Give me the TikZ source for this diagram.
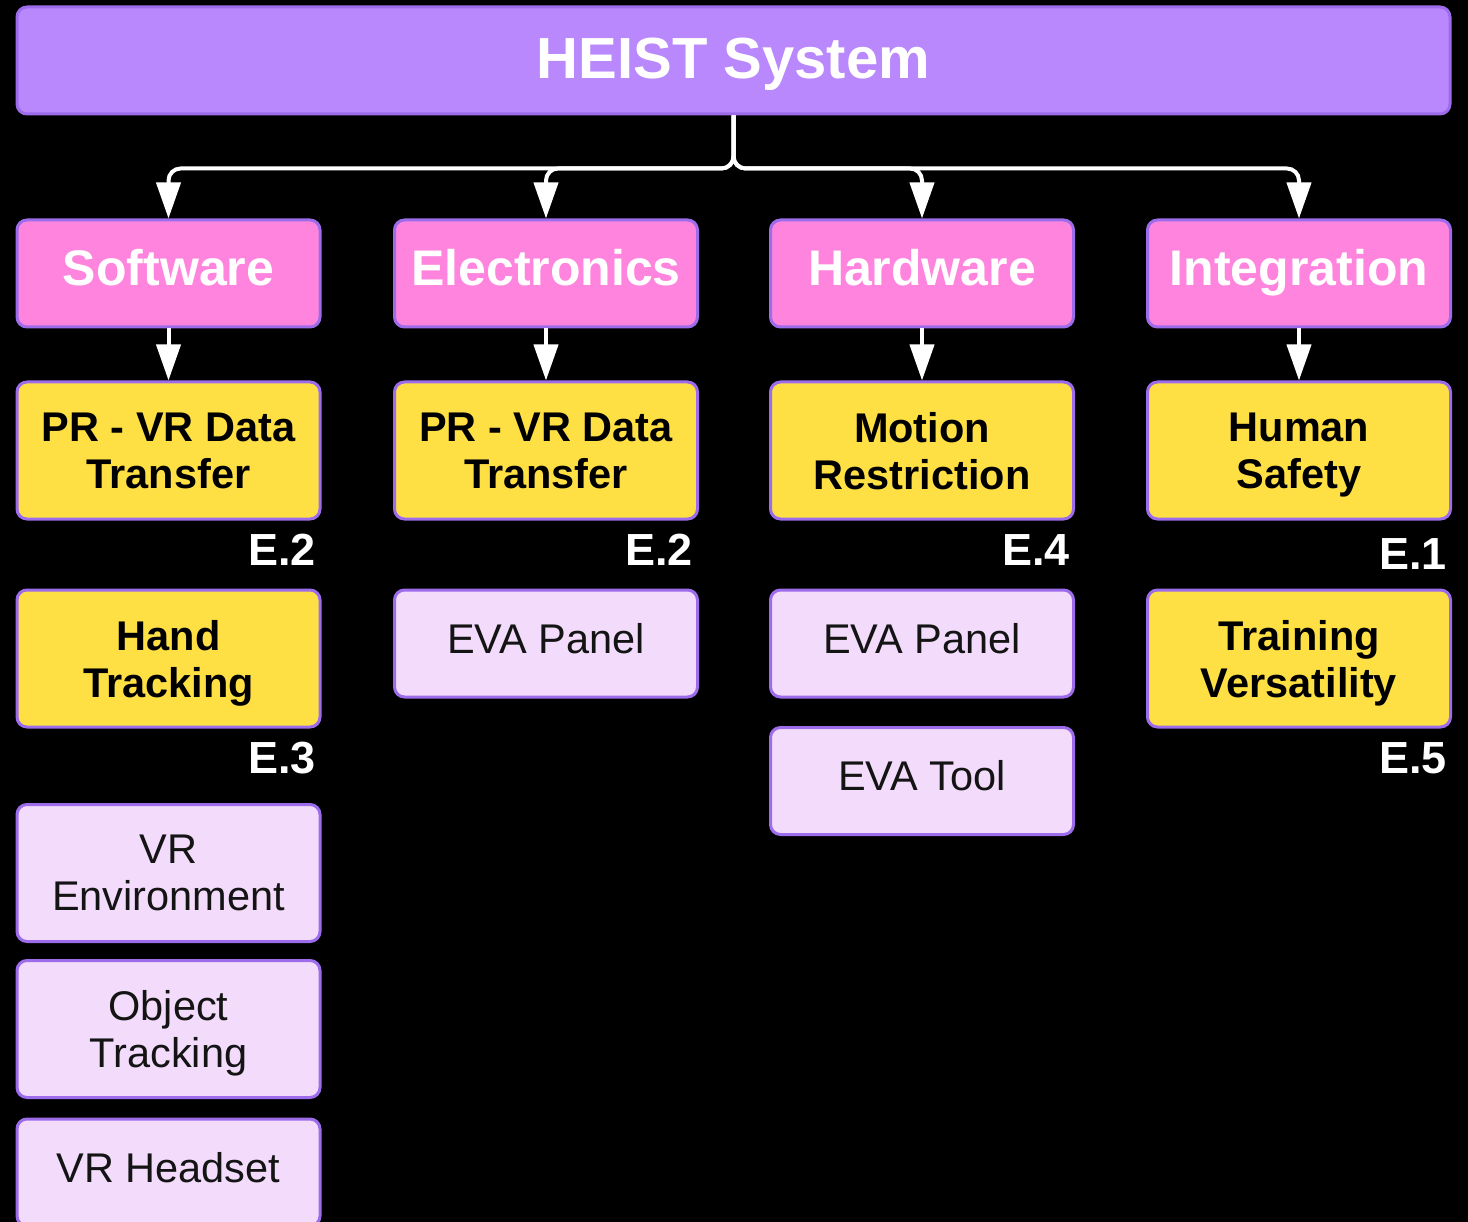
\documentclass[tikz,border=0pt]{standalone}
\usepackage{fontspec}
\setmainfont{Liberation Sans}
\usetikzlibrary{arrows.meta}
\definecolor{topfill}{HTML}{B988FC}
\definecolor{catfill}{HTML}{FF84DD}
\definecolor{reqfill}{HTML}{FFE044}
\definecolor{partfill}{HTML}{F3DBFC}
\definecolor{edgepurple}{HTML}{9C6CEA}
\definecolor{inktext}{HTML}{141414}

\begin{document}
\begin{tikzpicture}[x=1pt,y=-1pt,
  box/.style={draw=edgepurple, line width=3pt, rounded corners=10pt, align=center,
              inner sep=0pt, minimum width=303pt},
  topbox/.style={box, fill=topfill, minimum width=1433pt, minimum height=107pt,
                 text=white, text height=44pt, text depth=7pt,
                 font=\fontsize{58}{64}\selectfont\bfseries},
  catbox/.style={box, fill=catfill, minimum height=107pt, text=white,
                 text height=37pt, text depth=13pt,
                 font=\fontsize{50}{56}\selectfont\bfseries},
  reqbox/.style={box, fill=reqfill, minimum height=137pt, text=black, text depth=0pt,
                 font=\fontsize{41.5}{47}\selectfont\bfseries},
  partbox/.style={box, fill=partfill, minimum height=107pt, text=inktext,
                  text height=31pt, text depth=12pt,
                  font=\fontsize{41.5}{47}\selectfont},
  tallpart/.style={box, fill=partfill, minimum height=137pt, text=inktext,
                   text depth=0pt, font=\fontsize{41.5}{47}\selectfont},
  tag/.style={anchor=east, text=white, inner sep=0pt,
              font=\fontsize{45}{48}\selectfont\bfseries},
  link/.style={draw=white, line width=4pt, rounded corners=12pt,
               -{Triangle[width=24pt,length=36pt,fill=white]}}]

% canvas
\fill[black] (0,0) rectangle (1468,1222);
\clip (0,0) rectangle (1468,1222);

% root
\node[topbox] (root) at (733.5,60.5) {HEIST System};

% categories
\node[catbox] (sw) at (168.5,273.5) {Software};
\node[catbox] (el) at (546,273.5) {Electronics};
\node[catbox] (hw) at (922,273.5) {Hardware};
\node[catbox] (in) at (1299,273.5) {Integration};

% requirements
\node[reqbox] (swreq) at (168.5,450.5) {PR - VR Data\\Transfer};
\node[reqbox] (elreq) at (546,450.5) {PR - VR Data\\Transfer};
\node[reqbox] (hwreq) at (922,450.5) {Motion\\Restriction};
\node[reqbox] (inreq) at (1299,450.5) {Human\\Safety};

\node[tag] (swtag) at (316,550) {E.2};
\node[tag] (eltag) at (693,550) {E.2};
\node[tag] (hwtag) at (1070,550) {E.4};
\node[tag] (intag) at (1447,554) {E.1};

% second requirement rows
\node[reqbox] (hand) at (168.5,658.5) {Hand\\Tracking};
\node[tag] (handtag) at (316,758) {E.3};
\node[reqbox] (train) at (1299,658.5) {Training\\Versatility};
\node[tag] (traintag) at (1447,758) {E.5};

% parts
\node[partbox] (elpanel) at (546,643.5) {EVA Panel};
\node[partbox] (hwpanel) at (922,643.5) {EVA Panel};
\node[partbox] (hwtool) at (922,781) {EVA Tool};
\node[tallpart] (vrenv) at (168.5,873) {VR\\Environment};
\node[tallpart] (objtrack) at (168.5,1029) {Object\\Tracking};
\node[partbox] (headset) at (168.5,1172.5) {VR Headset};

% connectors
\foreach \c in {sw,el,hw,in}{
  \draw[link] (root.south) -- ++(0,53) -| (\c.north);
}
\draw[link] (sw.south) -- (swreq.north);
\draw[link] (el.south) -- (elreq.north);
\draw[link] (hw.south) -- (hwreq.north);
\draw[link] (in.south) -- (inreq.north);
\end{tikzpicture}
\end{document}
